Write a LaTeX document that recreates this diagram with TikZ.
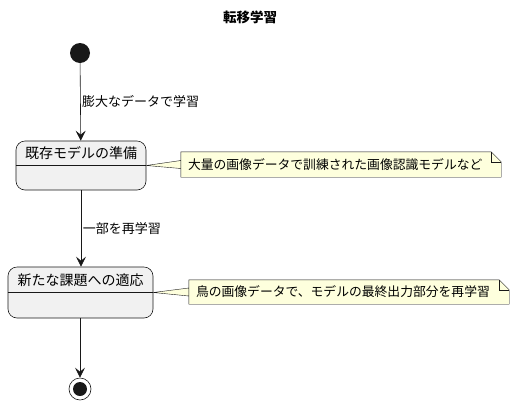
\documentclass[tikz,border=0pt]{standalone}
\usepackage{fontspec}
\setmainfont{Noto Sans CJK JP}
\usetikzlibrary{positioning,arrows.meta}
\definecolor{statefill}{HTML}{F1F1F1}
\definecolor{notefill}{HTML}{FEFFDD}
\definecolor{linecol}{HTML}{181818}
\tikzset{
    statebox/.style={draw=linecol,fill=statefill,rounded corners=9pt,line width=0.6pt},
    statename/.style={font=\fontsize{14}{16}\selectfont,inner sep=0pt},
    notebox/.style={inner sep=0pt,minimum height=25pt,minimum width=320pt},
    notetext/.style={font=\fontsize{12.8}{15}\selectfont,inner sep=0pt,right},
    edgelabel/.style={font=\fontsize{13}{15}\selectfont,right,inner sep=1.5pt},
    flow/.style={-{Stealth[length=10pt,width=10pt,inset=4pt]},draw=linecol,line width=0.6pt},
}
\begin{document}
\begin{tikzpicture}[x=1pt,y=-1pt]
    \useasboundingbox (0,0) rectangle (514,405);
    \begin{scope}
        \node[font=\bfseries\fontsize{13.5}{15}\selectfont] (title) at (250,17) {転移学習};
        \node[circle,fill=linecol,minimum size=20pt,inner sep=0pt] (start) at (80,53) {};
        % states
        \node[statebox,minimum width=130pt,minimum height=49pt] (prep) at (81,165.5) {};
        \node[statename] (prepname) at (81,153) {既存モデルの準備};
        \draw[linecol,line width=0.6pt] (prep.west)--(prep.east);
        \node[statebox,minimum width=145pt,minimum height=51pt] (adapt) at (80.5,292.5) {};
        \node[statename] (adaptname) at (80.5,280.5) {新たな課題への適応};
        \draw[linecol,line width=0.6pt] (adapt.west)--(adapt.east);
        \node[circle,draw=linecol,line width=0.6pt,minimum size=22pt,inner sep=0pt] (stop) at (80,389) {};
        \node[circle,fill=linecol,minimum size=14pt,inner sep=0pt] (stopdot) at (stop) {};
        % notes
        \node[notebox] (pretrained) at (341,164.5) {};
        \node[notebox,minimum height=24pt] (birds) at (349,292) {};
        \foreach \n/\s in {pretrained/prep,birds/adapt}{
            \filldraw[fill=notefill,draw=linecol,line width=0.4pt] (\s.east)--([yshift=-4pt]\n.west)--(\n.north west)--([xshift=-10pt]\n.north east)--([yshift=-10pt]\n.north east)--(\n.south east)--(\n.south west)--([yshift=4pt]\n.west)--cycle;
            \draw[linecol,line width=0.4pt] ([xshift=-10pt]\n.north east)--++(0,10)--([yshift=-10pt]\n.north east);
        }
        \node[notetext] at ([xshift=7pt]pretrained.west) {大量の画像データで訓練された画像認識モデルなど};
        \node[notetext] at ([xshift=7pt]birds.west) {鳥の画像データで、モデルの最終出力部分を再学習};
        % transitions
        \draw[flow] (start)--node[edgelabel]{膨大なデータで学習}(prep);
        \draw[flow] (prep)--node[edgelabel]{一部を再学習}(adapt.north-|prep);
        \draw[flow] (adapt.south-|stop)--(stop);
    \end{scope}
\end{tikzpicture}
\end{document}
